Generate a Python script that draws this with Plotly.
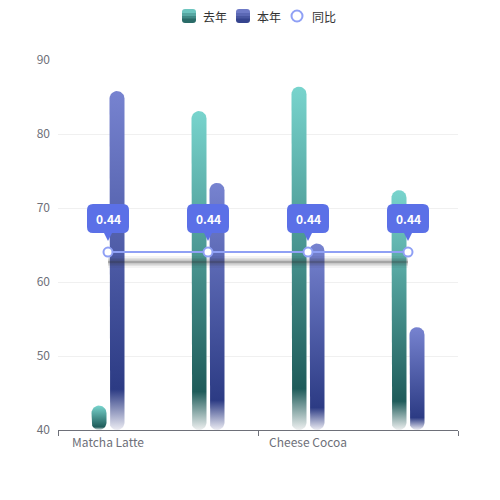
import numpy as np
import plotly.graph_objects as go

# ─── data ──────────────────────────────────────────────────────────────────
categories = ["Matcha Latte", "Milk Tea", "Cheese Cocoa", "Walnut Brownie"]
last_year  = [43.3, 83.1, 86.4, 72.4]     # 去年
this_year  = [85.8, 73.4, 65.2, 53.9]     # 本年
yoy_rate   = [0.44, 0.44, 0.44, 0.44]     # 同比
y_ticks    = [40, 50, 60, 70, 80, 90]

# ─── layout constants ──────────────────────────────────────────────────────
PAGE_OFF = 8                      # body margin of the html page
W, H = 500, 490
M_L, M_R, M_T, M_B = 50, 50, 52, 68
PLOT_W, PLOT_H = W - M_L - M_R, H - M_T - M_B
X_RANGE  = [-0.5, len(categories) - 0.5]
Y_RANGE  = [y_ticks[0], y_ticks[-1]]
Y2_RANGE = [0, 0.915]
PX_X = PLOT_W / (X_RANGE[1] - X_RANGE[0])       # pixels per x unit
PX_Y = PLOT_H / (Y_RANGE[1] - Y_RANGE[0])       # pixels per y unit
PX_Y2 = PLOT_H / (Y2_RANGE[1] - Y2_RANGE[0])

FONT = "Noto Sans CJK SC, Noto Sans, sans-serif"
AXIS_GREY = "#6e7079"
LINE_C = "#8fa0f5"
BUBBLE_C = "#5b70e7"

BAR_W = 15          # px
BAR_OFF = 0.09      # category units from center

TEAL = ("#78d4cd", "#1f5c5a")
BLUE = ("#7783d0", "#2c3b84")
teal_scale = [[0, "#eef0f0"], [0.12, TEAL[1]], [1, TEAL[0]]]
blue_scale = [[0, "#ececf3"], [0.12, BLUE[1]], [1, BLUE[0]]]


def pill(xc, top, base):
    """Outline of a fully rounded bar, in data units."""
    rx = BAR_W / 2 / PX_X
    ry = min(BAR_W / 2 / PX_Y, (top - base) / 2)
    t1 = np.linspace(0, np.pi, 16)
    t2 = np.linspace(np.pi, 2 * np.pi, 16)
    xs = np.concatenate([xc + rx * np.cos(t1), xc + rx * np.cos(t2)])
    ys = np.concatenate([top - ry + ry * np.sin(t1), base + ry + ry * np.sin(t2)])
    return list(xs) + [xs[0]], list(ys) + [ys[0]]


def page2paper(px, py):
    return ((px - PAGE_OFF - M_L) / PLOT_W,
            (PAGE_OFF + M_T + PLOT_H - py) / PLOT_H)


def mix(c1, c2, t):
    a = [int(c1[i:i + 2], 16) for i in (1, 3, 5)]
    b = [int(c2[i:i + 2], 16) for i in (1, 3, 5)]
    return "rgb(%d,%d,%d)" % tuple(round(x + (y - x) * t) for x, y in zip(a, b))


fig = go.Figure()

# ─── bars ──────────────────────────────────────────────────────────────────
for i in range(len(categories)):
    for vals, off, scale in ((last_year, -BAR_OFF, teal_scale), (this_year, BAR_OFF, blue_scale)):
        xs, ys = pill(i + off, vals[i], Y_RANGE[0])
        fig.add_trace(go.Scatter(
            x=xs, y=ys, mode="lines", fill="toself",
            line=dict(width=0, color=scale[-1][1]),
            fillgradient=dict(type="vertical", colorscale=scale),
            hoverinfo="skip", showlegend=False,
        ))

# ─── 同比 line with soft shadow ────────────────────────────────────────────
xi = list(range(len(categories)))
shadow_dy = 10 / PX_Y2
for w, a in ((12, 0.05), (8, 0.09), (5, 0.14), (2, 0.22)):
    fig.add_trace(go.Scatter(
        x=xi, y=[v - shadow_dy for v in yoy_rate], yaxis="y2", mode="lines",
        line=dict(color=f"rgba(40,40,40,{a})", width=w),
        hoverinfo="skip", showlegend=False,
    ))

fig.add_trace(go.Scatter(
    x=xi, y=yoy_rate, yaxis="y2", mode="lines+markers", name="同比",
    line=dict(color=LINE_C, width=2),
    marker=dict(size=9, color="white", line=dict(color=LINE_C, width=2)),
    showlegend=False, cliponaxis=False,
))

# callout bubbles
bubble = ("M -15,19 L -4,19 L 0,11 L 4,19 L 15,19 Q 21,19 21,25 L 21,42 "
          "Q 21,48 15,48 L -15,48 Q -21,48 -21,42 L -21,25 Q -21,19 -15,19 Z")
for i, v in enumerate(yoy_rate):
    fig.add_shape(type="path", path=bubble, xref="x", yref="y2",
                  xsizemode="pixel", ysizemode="pixel", xanchor=i, yanchor=v,
                  fillcolor=BUBBLE_C, line=dict(width=0))
    fig.add_annotation(x=i, y=v, yref="y2", yshift=33.5, text=f"{v:.2f}",
                       showarrow=False,
                       font=dict(family=FONT, size=12, color="white", weight="bold"))

# ─── hand-built legend ─────────────────────────────────────────────────────
# rounded 14px squares made of horizontal strips to fake the gradient
strips = [
    "M -7,2.5 L -7,4 Q -7,7 -4,7 L 4,7 Q 7,7 7,4 L 7,2.5 Z",
    "M -7,-0.5 L -7,3 L 7,3 L 7,-0.5 Z",
    "M -7,-3 L -7,0 L 7,0 L 7,-3 Z",
    "M -7,-4 Q -7,-7 -4,-7 L 4,-7 Q 7,-7 7,-4 L 7,-2.5 L -7,-2.5 Z",
]
LEG_Y = 16
for name, cx, cols in (("去年", 189, TEAL), ("本年", 243, BLUE)):
    ax, ay = page2paper(cx, LEG_Y)
    for k, p in enumerate(strips):
        fig.add_shape(type="path", path=p, xref="paper", yref="paper",
                      xsizemode="pixel", ysizemode="pixel", xanchor=ax, yanchor=ay,
                      fillcolor=mix(cols[0], cols[1], (k + 0.5) / len(strips)),
                      line=dict(width=0))
    tx, ty = page2paper(cx + 12, LEG_Y)
    fig.add_annotation(x=tx, y=ty, xref="paper", yref="paper", text=name,
                       showarrow=False, xanchor="left", yanchor="middle",
                       font=dict(family=FONT, size=12, color="#333"))

ax, ay = page2paper(297, LEG_Y)
fig.add_shape(type="circle", xref="paper", yref="paper",
              xsizemode="pixel", ysizemode="pixel", xanchor=ax, yanchor=ay,
              x0=-5.5, x1=5.5, y0=-5.5, y1=5.5,
              fillcolor="white", line=dict(color=LINE_C, width=2))
tx, ty = page2paper(310, LEG_Y)
fig.add_annotation(x=tx, y=ty, xref="paper", yref="paper", text="同比",
                   showarrow=False, xanchor="left", yanchor="middle",
                   font=dict(family=FONT, size=12, color="#333"))

fig.update_layout(
    width=W, height=H,
    margin=dict(l=M_L, r=M_R, t=M_T, b=M_B),
    paper_bgcolor="white",
    plot_bgcolor="white",
    font=dict(family=FONT, size=12, color=AXIS_GREY),
    showlegend=False,
    xaxis=dict(
        range=X_RANGE, showgrid=False, zeroline=False,
        showline=True, linecolor=AXIS_GREY, linewidth=1,
        tickvals=xi[::2], ticktext=categories[::2], ticks="", ticklabelstandoff=2,
        minor=dict(tickmode="array", tickvals=[-0.5, 1.5, 3.5], ticks="outside",
                   ticklen=5, tickcolor=AXIS_GREY, showgrid=False),
        tickfont=dict(size=12, color=AXIS_GREY),
    ),
    yaxis=dict(
        range=Y_RANGE, tickvals=y_ticks, showgrid=True, gridcolor="#f0f0f0",
        zeroline=False, showline=False, ticks="", ticklabelstandoff=7,
        tickfont=dict(size=12, color=AXIS_GREY),
    ),
    yaxis2=dict(range=Y2_RANGE, overlaying="y", visible=False),
)

fig.write_html("out.html")
